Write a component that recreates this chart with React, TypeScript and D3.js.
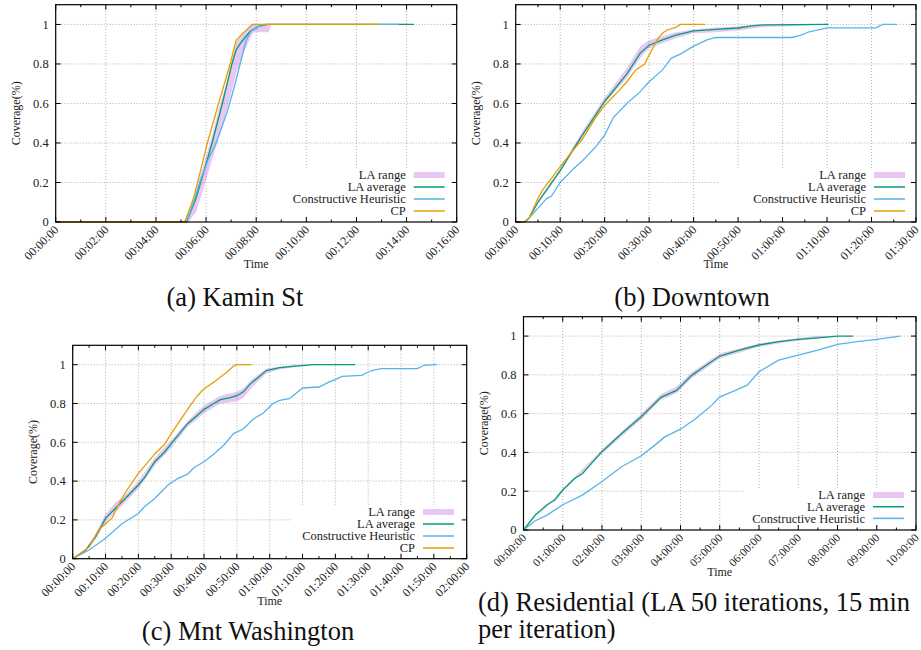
import React from 'react';
import * as d3 from 'd3';

// colours follow gnuplot's default line types
const RANGE_COLOR = '#9400d3';
const AVG_COLOR = '#009e73';
const CH_COLOR = '#56b4e9';
const CP_COLOR = '#e69f00';

// (a) Kamin St, time in minutes: [t, coverage] / range [t, lo, hi]
const kaminRange = [[5.1, 0, 0], [5.3, 0, 0.04], [5.6, 0.05, 0.16], [5.9, 0.17, 0.29], [6.2, 0.3, 0.42], [6.5, 0.42, 0.57], [6.8, 0.55, 0.7], [7.0, 0.65, 0.8], [7.2, 0.75, 0.91], [7.5, 0.86, 0.96], [7.8, 0.94, 1], [7.9, 0.96, 1], [8.5, 0.96, 1], [8.6, 1, 1], [14.3, 1, 1]];
const kaminAvg = [[0, 0], [5.22, 0], [5.6, 0.12], [5.9, 0.25], [6.24, 0.4], [6.65, 0.6], [7.03, 0.8], [7.2, 0.87], [7.4, 0.91], [7.76, 0.965], [8.1, 0.99], [8.45, 1], [14.3, 1]];
const kaminCH = [[0, 0], [5.22, 0], [5.5, 0.1], [5.8, 0.22], [6.1, 0.32], [6.4, 0.4], [6.6, 0.47], [6.85, 0.56], [7.05, 0.65], [7.2, 0.72], [7.4, 0.82], [7.6, 0.92], [7.8, 0.97], [8.1, 0.99], [8.35, 1], [13.7, 1]];
const kaminCP = [[0, 0], [5.15, 0], [5.5, 0.12], [5.8, 0.27], [6.05, 0.4], [6.5, 0.6], [6.96, 0.8], [7.2, 0.92], [7.5, 0.96], [7.85, 1], [12.9, 1]];

// (b) Downtown, minutes
const downRange = [[3, 0.02, 0.02], [5, 0.09, 0.11], [10, 0.25, 0.27], [15, 0.43, 0.46], [20, 0.6, 0.63], [25, 0.73, 0.78], [28, 0.83, 0.89], [30, 0.88, 0.92], [33, 0.905, 0.94], [36, 0.93, 0.96], [40, 0.955, 0.975], [45, 0.96, 0.985], [50, 0.97, 0.99], [55, 0.985, 1], [60, 0.99, 1], [65, 0.995, 1], [70, 1, 1]];
const downAvg = [[0, 0], [2, 0], [3, 0.02], [5, 0.1], [10, 0.26], [13, 0.37], [15, 0.44], [20, 0.61], [25, 0.75], [28, 0.855], [30, 0.895], [33, 0.922], [36, 0.946], [40, 0.968], [45, 0.975], [50, 0.982], [53, 0.993], [56, 0.998], [70.3, 1]];
const downCH = [[0, 0], [2, 0], [3, 0.02], [5, 0.07], [7, 0.12], [8, 0.13], [10, 0.2], [13, 0.27], [15, 0.31], [18, 0.38], [20, 0.44], [22, 0.53], [25, 0.6], [28, 0.66], [30, 0.71], [33, 0.77], [35, 0.83], [37, 0.85], [40, 0.89], [43, 0.922], [45, 0.934], [62, 0.934], [64, 0.945], [66, 0.963], [70, 0.983], [81, 0.983], [82.5, 1], [85.7, 1]];
const downCP = [[0, 0], [2, 0], [3, 0.02], [4, 0.07], [5, 0.12], [6, 0.16], [8, 0.22], [10, 0.28], [13, 0.365], [15, 0.42], [18, 0.53], [20, 0.59], [23, 0.66], [25, 0.71], [27, 0.77], [29, 0.8], [30, 0.845], [31, 0.887], [32, 0.93], [33, 0.955], [34, 0.972], [36, 0.985], [37, 1], [42.6, 1]];

// (c) Mnt Washington, minutes
const mntRange = [[0, 0, 0], [4, 0.04, 0.05], [7, 0.1, 0.13], [10, 0.19, 0.23], [13, 0.24, 0.29], [16, 0.29, 0.33], [20, 0.36, 0.4], [25, 0.48, 0.52], [30, 0.57, 0.61], [35, 0.68, 0.71], [38, 0.72, 0.76], [40, 0.75, 0.79], [45, 0.8, 0.84], [50, 0.81, 0.86], [52, 0.83, 0.88], [55, 0.89, 0.93], [59, 0.955, 0.98], [63, 0.975, 0.99], [68, 0.99, 1], [73, 1, 1], [86, 1, 1]];
const mntAvg = [[0, 0], [4, 0.045], [7, 0.113], [10, 0.208], [13, 0.26], [16, 0.31], [18, 0.345], [20, 0.38], [22, 0.42], [25, 0.5], [28, 0.55], [30, 0.593], [35, 0.696], [38, 0.74], [40, 0.77], [43, 0.8], [45, 0.82], [48, 0.83], [50, 0.84], [52, 0.86], [54, 0.9], [56, 0.928], [59, 0.97], [63, 0.985], [68, 0.993], [73, 1], [86, 1]];
const mntCH = [[0, 0], [5, 0.045], [10, 0.105], [15, 0.18], [20, 0.233], [22, 0.27], [25, 0.31], [29, 0.38], [32, 0.413], [35, 0.436], [37, 0.47], [40, 0.5], [43, 0.54], [46, 0.585], [49, 0.645], [52, 0.67], [55, 0.72], [58, 0.75], [61, 0.8], [63, 0.816], [66, 0.825], [70, 0.88], [75, 0.885], [78, 0.91], [80, 0.923], [82, 0.94], [88, 0.945], [91, 0.97], [94, 0.98], [105, 0.98], [107, 0.997], [110, 1], [111, 1]];
const mntCP = [[0, 0], [3, 0.036], [5, 0.06], [8, 0.15], [10, 0.18], [12, 0.21], [14, 0.28], [16, 0.34], [18, 0.39], [20, 0.44], [22, 0.48], [25, 0.54], [28, 0.59], [30, 0.645], [33, 0.72], [35, 0.77], [38, 0.84], [40, 0.876], [43, 0.91], [45, 0.937], [47, 0.962], [49, 0.993], [50, 1], [54.5, 1]];

// (d) Residential, time in hours
const resRange = [[0, 0, 0], [1, 0.2, 0.212], [2, 0.395, 0.415], [3, 0.57, 0.6], [3.5, 0.67, 0.7], [3.9, 0.705, 0.74], [4.3, 0.785, 0.815], [5, 0.885, 0.91], [6, 0.945, 0.962], [7, 0.977, 0.99], [7.5, 0.988, 1], [7.8, 0.995, 1]];
const resAvg = [[0, 0], [0.3, 0.077], [0.6, 0.13], [0.8, 0.155], [1, 0.206], [1.3, 0.266], [1.5, 0.29], [2, 0.404], [2.5, 0.498], [3, 0.584], [3.5, 0.684], [3.9, 0.72], [4.3, 0.8], [4.6, 0.842], [5, 0.897], [5.5, 0.928], [6, 0.954], [6.5, 0.971], [7, 0.983], [7.5, 0.991], [8, 1], [8.4, 1]];
const resCH = [[0, 0], [0.3, 0.048], [0.6, 0.077], [1, 0.13], [1.5, 0.18], [2, 0.25], [2.5, 0.326], [3, 0.383], [3.3, 0.43], [3.6, 0.48], [4, 0.52], [4.4, 0.576], [4.8, 0.644], [5, 0.687], [5.4, 0.72], [5.7, 0.747], [6, 0.816], [6.5, 0.876], [7, 0.902], [7.5, 0.928], [8, 0.957], [8.5, 0.971], [9, 0.983], [9.6, 1]];

const yTicks = [0, 0.2, 0.4, 0.6, 0.8, 1];
const legendNames = ['LA range', 'LA average', 'Constructive Heuristic', 'CP'];

const pad = (n: number) => String(n).padStart(2, '0');
const fmtMin = (t: number) => `${pad(Math.floor(t / 60))}:${pad(Math.round(t % 60))}:00`;
const fmtHour = (t: number) => `${pad(t)}:00:00`;

const serif = { fontFamily: "'Liberation Serif', 'DejaVu Serif', 'Times New Roman', serif" };

const panels = [
  { left: 55.7, right: 456.7, top: 4.7, bottom: 222, xMax: 16, major: 2, minor: 1, fmt: fmtMin,
    range: kaminRange, avg: kaminAvg, ch: kaminCH, cp: kaminCP, legRight: 405.7, legY: 175, boxLeft: 262, tickFont: 12 },
  { left: 515.7, right: 916, top: 4.7, bottom: 222, xMax: 90, major: 10, minor: 5, fmt: fmtMin,
    range: downRange, avg: downAvg, ch: downCH, cp: downCP, legRight: 866, legY: 175, boxLeft: 718, tickFont: 12 },
  { left: 72.7, right: 466.7, top: 345.3, bottom: 558.7, xMax: 120, major: 10, minor: 5, fmt: fmtMin,
    range: mntRange, avg: mntAvg, ch: mntCH, cp: mntCP, legRight: 415, legY: 512, boxLeft: 290, tickFont: 12 },
  { left: 523.5, right: 916, top: 316.7, bottom: 530, xMax: 10, major: 1, minor: 0.5, fmt: fmtHour,
    range: resRange, avg: resAvg, ch: resCH, cp: null, legRight: 865, legY: 495, boxLeft: 745, tickFont: 11.5 },
];

function Panel({ p }: { p: any }) {
  const x = d3.scaleLinear().domain([0, p.xMax]).range([p.left, p.right]);
  const y = d3.scaleLinear().domain([0, 1.1]).range([p.bottom, p.top]);
  const line = d3.line<number[]>().x(d => x(d[0])).y(d => y(d[1]));
  const area = d3.area<number[]>().x(d => x(d[0])).y0(d => y(d[1])).y1(d => y(d[2]));

  const majors = d3.range(0, p.xMax + 1e-9, p.major);
  const minors = d3.range(0, p.xMax + 1e-9, p.minor).filter(t => Math.abs(t / p.major - Math.round(t / p.major)) > 1e-6);

  const series = [
    { name: legendNames[1], data: p.avg, color: AVG_COLOR },
    { name: legendNames[2], data: p.ch, color: CH_COLOR },
    ...(p.cp ? [{ name: legendNames[3], data: p.cp, color: CP_COLOR }] : []),
  ];
  const rows = p.cp ? 4 : 3;
  const rowH = p.cp ? 12 : 11.7;
  const sx1 = p.legRight + 8;
  const sx2 = p.legRight + 39;

  return (
    <g>
      {/* grid */}
      <g stroke="#9a9a9a" strokeWidth={0.8} strokeDasharray="1,2">
        {majors.filter(t => t > 0 && t < p.xMax).map(t => (
          <line key={'gx' + t} x1={x(t)} x2={x(t)} y1={p.bottom} y2={p.top} />
        ))}
        {yTicks.filter(v => v > 0).map(v => (
          <line key={'gy' + v} x1={p.left} x2={p.right} y1={y(v)} y2={y(v)} />
        ))}
      </g>
      {/* opaque key box */}
      <rect x={p.boxLeft} y={p.legY - 6.5} width={p.right - p.boxLeft - 1} height={rows * rowH + 1} fill="#fff" />

      <path d={area(p.range) || ''} fill={RANGE_COLOR} fillOpacity={0.22} stroke="none" />
      {series.map(s => (
        <path key={s.name} d={line(s.data) || ''} fill="none" stroke={s.color} strokeWidth={1.3} />
      ))}

      {/* border and ticks */}
      <rect x={p.left} y={p.top} width={p.right - p.left} height={p.bottom - p.top} fill="none" stroke="#000" strokeWidth={1.2} />
      <g stroke="#000" strokeWidth={1}>
        {majors.map(t => (
          <g key={'mt' + t}>
            <line x1={x(t)} x2={x(t)} y1={p.bottom} y2={p.bottom - 5} />
            <line x1={x(t)} x2={x(t)} y1={p.top} y2={p.top + 5} />
          </g>
        ))}
        {minors.map(t => (
          <g key={'nt' + t}>
            <line x1={x(t)} x2={x(t)} y1={p.bottom} y2={p.bottom - 2.5} />
            <line x1={x(t)} x2={x(t)} y1={p.top} y2={p.top + 2.5} />
          </g>
        ))}
        {yTicks.map(v => (
          <g key={'yt' + v}>
            <line x1={p.left} x2={p.left + 5} y1={y(v)} y2={y(v)} />
            <line x1={p.right} x2={p.right - 5} y1={y(v)} y2={y(v)} />
          </g>
        ))}
      </g>

      {/* tick labels */}
      <g style={serif} fill="#222">
        {yTicks.map(v => (
          <text key={'yl' + v} x={p.left - 7} y={y(v)} dy="0.35em" textAnchor="end" fontSize={12.5}>{String(v)}</text>
        ))}
        {majors.map(t => (
          <text key={'xl' + t} transform={`translate(${x(t) + 1},${p.bottom + 6}) rotate(-45)`} dy="0.3em"
            textAnchor="end" fontSize={p.tickFont}>{p.fmt(t)}</text>
        ))}
        <text x={(p.left + p.right) / 2} y={p.bottom + 46} textAnchor="middle" fontSize={12}>Time</text>
        <text transform={`translate(${p.left - 36},${(p.top + p.bottom) / 2}) rotate(-90)`} textAnchor="middle" fontSize={12}>Coverage(%)</text>
      </g>

      {/* key */}
      <g style={serif} fill="#222" fontSize={12.5}>
        <text x={p.legRight} y={p.legY} dy="0.35em" textAnchor="end">{legendNames[0]}</text>
        <rect x={sx1} y={p.legY - 3} width={sx2 - sx1} height={6} fill={RANGE_COLOR} fillOpacity={0.22} />
        {series.map((s, i) => (
          <g key={'lg' + s.name}>
            <text x={p.legRight} y={p.legY + (i + 1) * rowH} dy="0.35em" textAnchor="end">{s.name}</text>
            <line x1={sx1} x2={sx2} y1={p.legY + (i + 1) * rowH} y2={p.legY + (i + 1) * rowH} stroke={s.color} strokeWidth={1.5} />
          </g>
        ))}
      </g>
    </g>
  );
}

export default function App() {
  return (
    <svg width={921} height={650} style={{ position: 'absolute', left: 0, top: 0, background: '#fff' }}>
      <rect width={921} height={650} fill="#fff" />
      {panels.map((p, i) => <Panel key={i} p={p} />)}
      <g style={serif} fill="#111" fontSize={26.5}>
        <text x={235} y={306} textAnchor="middle">(a) Kamin St</text>
        <text x={692} y={306} textAnchor="middle">(b) Downtown</text>
        <text x={248} y={640} textAnchor="middle">(c) Mnt Washington</text>
        <text x={478} y={611}>(d) Residential (LA 50 iterations, 15 min</text>
        <text x={478} y={638}>per iteration)</text>
      </g>
    </svg>
  );
}
